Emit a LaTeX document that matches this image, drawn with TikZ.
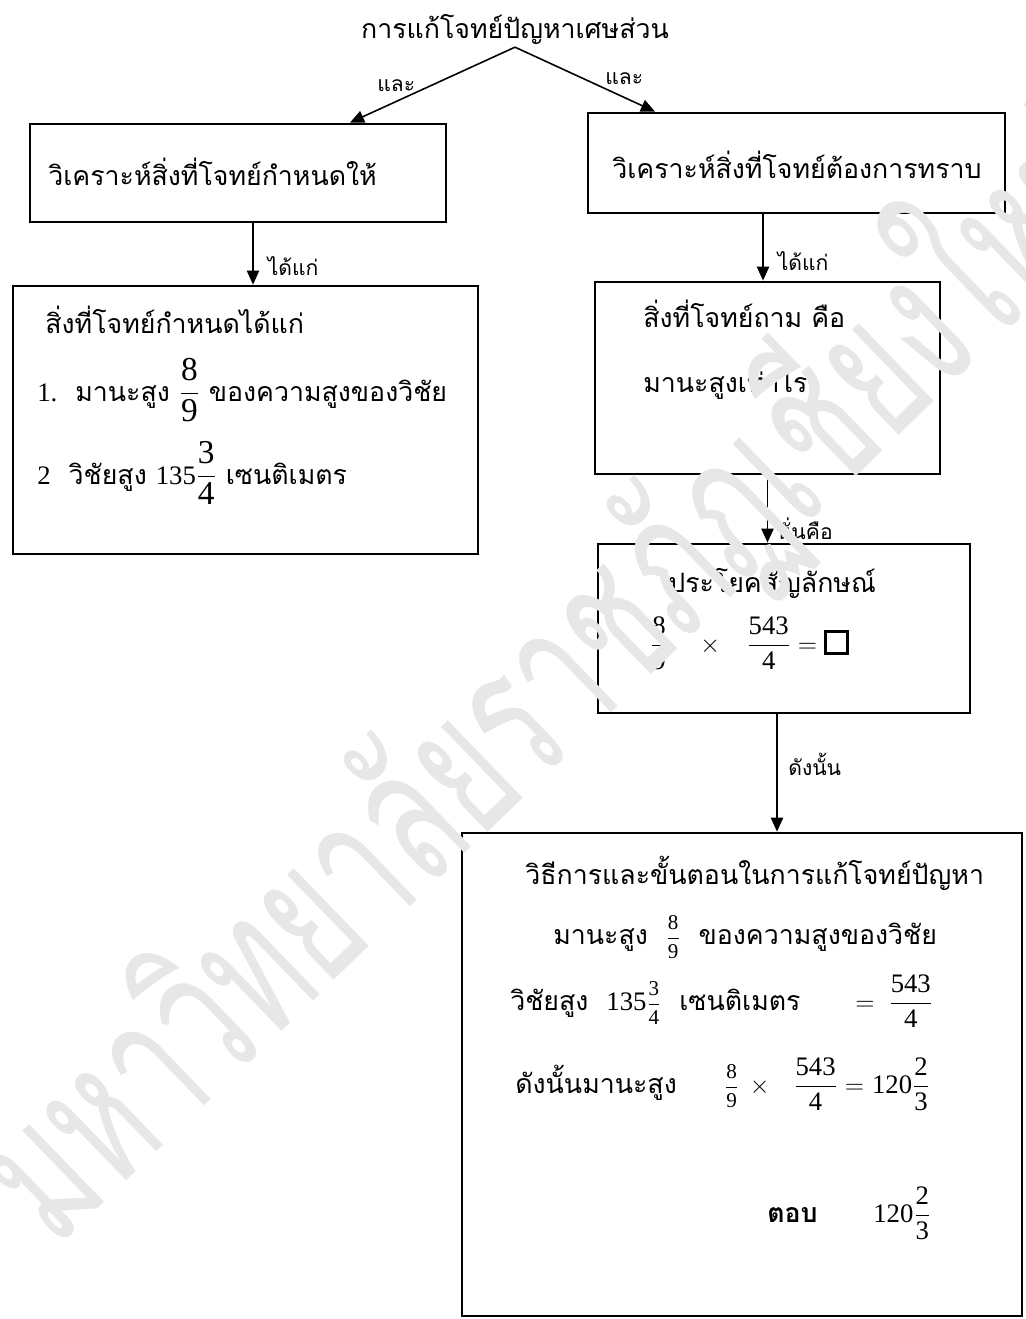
\documentclass[tikz,border=0pt]{standalone}
\usepackage{fontspec}
\usepackage{amsmath,amssymb}
\setmainfont{Liberation Serif}
\newfontfamily\thfont[Script=Thai]{Loma}
\usetikzlibrary{arrows.meta,positioning,calc}

\newcommand\fr[2]{\dfrac{\text{\rmfamily #1}}{\text{\rmfamily #2}}}
\newcommand\sfr[2]{{\fontsize{12}{14}\selectfont$\fr{#1}{#2}$}}
\newcommand\bfr[2]{{\fontsize{19}{22}\selectfont$\fr{#1}{#2}$}}
\newcommand\nm[1]{{\rmfamily #1}}
\newcommand\ansbox{{\setlength\fboxrule{1.7pt}\setlength\fboxsep{0pt}\fbox{\rule{0pt}{0.72em}\hspace{0.72em}}}}

\begin{document}
\begin{tikzpicture}[
        x=0.02cm, y=-0.02cm,
        box/.style 2 args={draw, line width=1.6pt, minimum width=#1, minimum height=#2, inner sep=0pt},
        txt/.style={font=\thfont\fontsize{15.2}{19}\selectfont, anchor=base west, inner sep=0pt},
        lbl/.style={font=\thfont\fontsize{12}{15}\selectfont, inner sep=2pt},
        arrow/.style={-{Triangle[length=8pt,width=7pt]}, line width=0.9pt},
        wmark/.style={font=\thfont\fontsize{69}{80}\selectfont, text=gray!19, rotate=44, yscale=1.6, anchor=base west, inner sep=0pt}
    ]
        \useasboundingbox (0,0) rectangle (1026,1319);

        % Title
        \node[font=\thfont\fontsize{15.2}{19}\selectfont, inner sep=1pt] (title) at (515,30) {การแก้โจทย์ปัญหาเศษส่วน};

        % Boxes
        \node[box={8.32cm}{1.96cm}] (lbox1) at (238,173) {};
        \node[box={8.34cm}{2.0cm}] (rbox1) at (796.5,163) {};
        \node[box={9.3cm}{5.36cm}] (lbox2) at (245.5,420) {};
        \node[box={6.9cm}{3.84cm}] (rbox2) at (767.5,378) {};
        \node[box={7.44cm}{3.38cm}] (rbox3) at (784,628.5) {};
        \node[box={11.2cm}{9.66cm}] (sbox) at (742,1074.5) {};

        % Texts in the boxes
        \node[txt] (lt1) at (48,185) {วิเคราะห์สิ่งที่โจทย์กำหนดให้};
        \node[txt] (rt1) at (612,178) {วิเคราะห์สิ่งที่โจทย์ต้องการทราบ};

        \node[txt] (lt2) at (45,333) {สิ่งที่โจทย์กำหนดได้แก่};
        \node[txt] (lt3) at (37,401) {\nm{1.}\ \ มานะสูง\ \bfr{8}{9}\ ของความสูงของวิชัย};
        \node[txt] (lt4) at (37,484) {\nm{2}\ \ วิชัยสูง \nm{135}\bfr{3}{4}\ เซนติเมตร};

        \node[txt] (rt2) at (643,327) {สิ่งที่โจทย์ถาม คือ};
        \node[txt] (rt3) at (643,392) {มานะสูงเท่าไร};

        \node[txt] (rt4) at (668,592) {ประโยคสัญลักษณ์};
        \node[txt] (rt5) at (650,652) {$\fr{8}{9}\quad\times\;\;\;\fr{543}{4}=\ansbox$};

        \node[txt] (st1) at (525,884) {วิธีการและขั้นตอนในการแก้โจทย์ปัญหา};
        \node[txt] (st2) at (553,944) {มานะสูง\ \ \sfr{8}{9}\ \ ของความสูงของวิชัย};
        \node[txt] (st3) at (510,1010) {วิชัยสูง\ \ \nm{135}\sfr{3}{4}\ \ เซนติเมตร};
        \node[txt] (st4) at (855,1010) {$=\;\fr{543}{4}$};
        \node[txt] (st5) at (515,1093) {ดังนั้นมานะสูง};
        \node[txt] (st6) at (724,1093) {\sfr{8}{9}\hspace{0.4em}$\times$\hspace{0.9em}$\fr{543}{4}=$\hspace{0.3em}\nm{120}$\fr{2}{3}$};
        \node[txt, font=\thfont\bfseries\fontsize{15.2}{19}\selectfont] (st7) at (767,1222) {ตอบ};
        \node[txt] (st8) at (873,1222) {\nm{120}$\fr{2}{3}$};

        % Arrows
        \draw[arrow] (title.south) -- node[lbl, pos=.72, above=3pt] (and1) {และ} ([xshift=2.24cm]lbox1.north);
        \draw[arrow] (title.south) -- node[lbl, pos=.78, above=5pt] (and2) {และ} ([xshift=-2.83cm]rbox1.north);
        \draw[arrow] ([xshift=0.3cm]lbox1.south) coordinate (s1) -- node[lbl, pos=.7, right=6pt] (g1) {ได้แก่} (s1 |- lbox2.north);
        \draw[arrow] ([xshift=-0.67cm]rbox1.south) coordinate (s2) -- node[lbl, pos=.7, right=6pt] (g2) {ได้แก่} (s2 |- rbox2.north);
        \draw[arrow] (rbox2.south) -- node[lbl, pos=.8, right=3pt] (g3) {นั่นคือ} (rbox2.south |- rbox3.north);
        \draw[arrow] ([xshift=-0.14cm]rbox3.south) coordinate (s3) -- node[lbl, pos=.43, right=4pt] (g4) {ดังนั้น} (s3 |- sbox.north);

        % Watermark
        \node[wmark] (wm) at (55,1250) {มหาวิทยาลัยราชภัฏเชียงใหม่};

    \end{tikzpicture}
\end{document}
